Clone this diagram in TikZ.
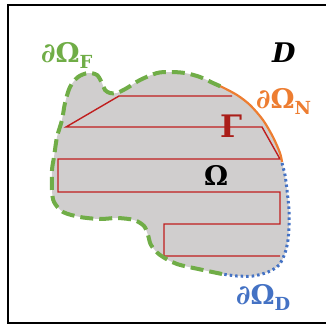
\documentclass[tikz,border=0pt]{standalone}
\usepackage{fontspec}
\setmainfont{DejaVu Serif}
\usetikzlibrary{positioning,calc}
\definecolor{fgreen}{RGB}{112,173,71}
\definecolor{norange}{RGB}{237,125,49}
\definecolor{dblue}{RGB}{68,114,196}
\definecolor{gred}{RGB}{192,30,30}
\definecolor{gdark}{RGB}{170,30,25}
\definecolor{regiongray}{RGB}{208,206,206}
\newcommand{\bsub}[1]{\raisebox{-6pt}{\fontsize{18}{20}\selectfont #1}}
\begin{document}
\begin{tikzpicture}[x=1pt,y=1pt,
  lab/.style={inner sep=0pt,anchor=base west,font=\fontsize{27}{32}\selectfont\bfseries},
  freeb/.style={fgreen,line width=4pt,dash pattern=on 13pt off 6pt},
  neumb/.style={norange,line width=2.2pt},
  dirb/.style={dblue,line width=3pt,dash pattern=on 2.5pt off 3pt},
  printpath/.style={gred,line width=1.4pt,line join=miter}]
  \useasboundingbox (0,0) rectangle (325,-327);
  \draw[line width=2.5pt] (335,-5) -- (8,-5) -- (8,-323) -- (335,-323);
  % region
  \fill[regiongray] plot[smooth cycle] coordinates {(222,-87) (237,-95) (250,-105) (263,-120) (273,-137) (280,-153) (282,-162)
    (285,-175) (287,-190) (289,-210) (289,-225) (288,-240) (285,-253) (279,-265) (268,-272) (253,-276) (237,-276) (222,-274)
    (203,-270) (177,-264) (160,-255) (151,-245) (148,-235) (144,-226) (134,-220) (117,-218) (100,-219) (80,-217) (63,-212) (54,-202) (52,-190)
    (52,-170) (54,-157) (57,-137) (62,-120) (65,-103) (70,-87) (78,-77) (88,-73) (97,-75) (102,-83) (105,-90) (110,-93) (117,-93)
    (127,-88) (140,-80) (157,-73) (170,-72) (185,-73) (200,-77) (213,-83)};
  % toolpath
  \draw[printpath] (232,-96) -- (119,-96) -- (66,-127) -- (262,-127) -- (280,-159) -- (58,-159) -- (58,-192)
    -- (280,-192) -- (280,-224) -- (164,-224) -- (164,-256) -- (280,-256);
  % boundary parts
  \draw[neumb] plot[smooth] coordinates {(213,-83) (222,-87) (237,-95) (250,-105) (263,-120) (273,-137) (280,-153) (282,-162)};
  \draw[dirb] plot[smooth] coordinates {(282,-163) (285,-175) (287,-190) (289,-210) (289,-225) (288,-240) (285,-253) (279,-265) (268,-272) (253,-276) (237,-276) (222,-274)};
  \draw[freeb] plot[smooth] coordinates {(222,-274) (203,-270) (177,-264) (160,-255) (151,-245) (148,-235) (144,-226) (134,-220) (117,-218) (100,-219) (80,-217) (63,-212) (54,-202) (52,-190)
    (52,-170) (54,-157) (57,-137) (62,-120) (65,-103) (70,-87) (78,-77) (88,-73) (97,-75) (102,-83) (105,-90) (110,-93) (117,-93)
    (127,-88) (140,-80) (157,-73) (170,-72) (185,-73) (200,-77) (213,-83) (222,-87)};
  % labels
  \node[lab,fgreen] (lF) at (41,-62) {\textit{∂}Ω\bsub{F}};
  \node[lab] (lD) at (272,-62) {\textit{D}};
  \node[lab,norange] (lN) at (256,-108) {\textit{∂}Ω\bsub{N}};
  \node[lab,gdark,font=\fontsize{31}{36}\selectfont\bfseries] (lG) at (220,-137) {Γ};
  \node[lab] (lO) at (204,-185) {Ω};
  \node[lab,dblue] (lDir) at (236,-304) {\textit{∂}Ω\bsub{D}};
\end{tikzpicture}
\end{document}
